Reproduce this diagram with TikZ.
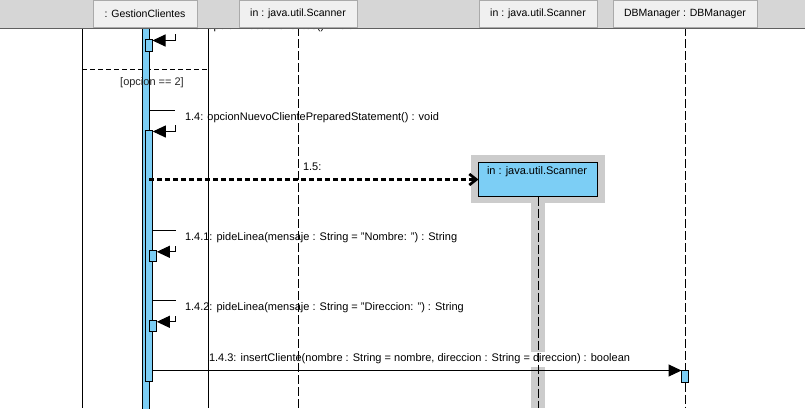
\documentclass[tikz,border=0pt]{standalone}
\usepackage{fontspec}
\setmainfont{Liberation Sans}
\usetikzlibrary{arrows.meta}
\definecolor{actblue}{RGB}{124,206,245}
\definecolor{halogray}{RGB}{204,204,204}
\definecolor{hdrgray}{RGB}{214,214,214}
\definecolor{hdrfill}{RGB}{240,240,240}
\definecolor{hdredge}{RGB}{170,170,170}
\definecolor{hdrline}{RGB}{96,96,96}
\pgfdeclarelayer{bg}
\pgfdeclarelayer{fg}
\pgfsetlayers{bg,main,fg}

\begin{document}
\begin{tikzpicture}[
    x=1pt, y=-1pt,
    every node/.style={font=\fontsize{11}{13}\selectfont, outer sep=0pt},
    actbox/.style={draw, fill=actblue, line width=1pt, inner sep=0pt, minimum width=7pt, anchor=north west},
    lifeline/.style={line width=1pt, dash pattern=on 9pt off 3pt},
    fragline/.style={line width=1pt},
    selfmsg/.style={line width=1pt, -{Triangle[length=13pt,width=12pt]}},
    createmsg/.style={line width=2.7pt, dash pattern=on 5pt off 3pt, -{Straight Barb[length=7pt,width=11pt]}},
    msglabel/.style={fill=white, anchor=west, inner xsep=10pt, inner ysep=2.25pt, text height=8pt, text depth=2.5pt},
    hdrbox/.style={draw=hdredge, fill=hdrfill, line width=1pt, minimum height=27pt, anchor=north, font=\fontsize{10.5}{12}\selectfont}
]
\useasboundingbox (0,0) rectangle (805,408);
\clip (0,0) rectangle (805,408);

% header with the lifeline heads
\begin{pgfonlayer}{fg}
\fill[hdrgray] (0,0) rectangle (805,28);
\draw[hdrline, line width=1pt] (0,28.5) -- (805,28.5);
\node[hdrbox, minimum width=104pt] (hgest) at (145,0) {: GestionClientes};
\node[hdrbox, minimum width=118pt] (hscan) at (298,0) {in : java.util.Scanner};
\node[hdrbox, minimum width=118pt] (hscanb) at (538,0) {in : java.util.Scanner};
\node[hdrbox, minimum width=144pt] (hdb) at (685,0) {DBManager : DBManager};
\end{pgfonlayer}

% activations
\node[actbox, minimum height=390pt] (gest) at (142.2,28) {};
\node[actbox, minimum height=12pt] (a13) at (145.5,39.5) {};
\node[actbox, minimum height=251pt] (a14) at (145.8,130.5) {};
\node[actbox, minimum height=11pt] (a141) at (149.8,250.8) {};
\node[actbox, minimum height=11pt] (a142) at (149.8,320.8) {};
\node[actbox, minimum width=7.3pt, minimum height=12pt] (adb) at (681.5,370.5) {};

% created scanner
\node[draw, fill=actblue, line width=1pt, minimum width=119pt, minimum height=34pt, anchor=north west] (scan) at (478.5,162.5) {};
\node[anchor=base west, inner sep=0pt] (scanname) at (487,174) {in : java.util.Scanner};

\begin{pgfonlayer}{bg}
\fill[halogray] (471,155) rectangle (605,203);
\fill[halogray] (531,203) rectangle (545,408);
\draw[fragline, dash pattern=on 5pt off 3pt] (82,69) -- (208,69);
% messages
\coordinate (t13) at (175,20);
\coordinate (t14) at (175,110);
\coordinate (t141) at (175,230);
\coordinate (t142) at (175,300);
\draw[selfmsg] (gest.east |- t13) -- (t13) |- ([yshift=-1pt]a13.north east);
\draw[selfmsg] (gest.east |- t14) -- (t14) |- ([yshift=-1pt]a14.north east);
\draw[selfmsg] (a14.east |- t141) -- (t141) |- ([yshift=-1pt]a141.north east);
\draw[selfmsg] (a14.east |- t142) -- (t142) |- ([yshift=-1pt]a142.north east);
\draw[selfmsg] (a14.east |- adb.north west) -- (adb.north west);
\end{pgfonlayer}

\draw[createmsg] (gest.east |- scan.west) -- (scan.west);

% labels
\node[msglabel] (lbl13) at (175,26.5) {1.3: opcionMostrarClientes() : void};
\node[msglabel] (lbl14) at (175,117.5) {1.4: opcionNuevoClientePreparedStatement() : void};
\node[msglabel] (lbl141) at (175,238) {1.4.1: pideLinea(mensaje : String = "Nombre: ") : String};
\node[msglabel] (lbl142) at (175,308) {1.4.2: pideLinea(mensaje : String = "Direccion: ") : String};
\node[msglabel] (lbl15) at (293,168) {1.5:};
\node[msglabel] (lbl143) at (199,359) {1.4.3: insertCliente(nombre : String = nombre, direccion : String = direccion) : boolean};
\node[text=black!85] (guard) at (152,83) {[opcion == 2]};

% lifelines and fragment
\draw[lifeline] (hscan.south) -- (hscan.south |- 0,408);
\draw[lifeline] (scan.south) -- (scan.south |- 0,408);
\draw[lifeline] (hdb.south) -- (hdb.south |- adb.north);
\draw[lifeline] (hdb.south |- adb.south) -- (hdb.south |- 0,408);
\draw[fragline] (82,28) -- (82,408);
\draw[fragline] (208,28) -- (208,408);
\end{tikzpicture}
\end{document}
